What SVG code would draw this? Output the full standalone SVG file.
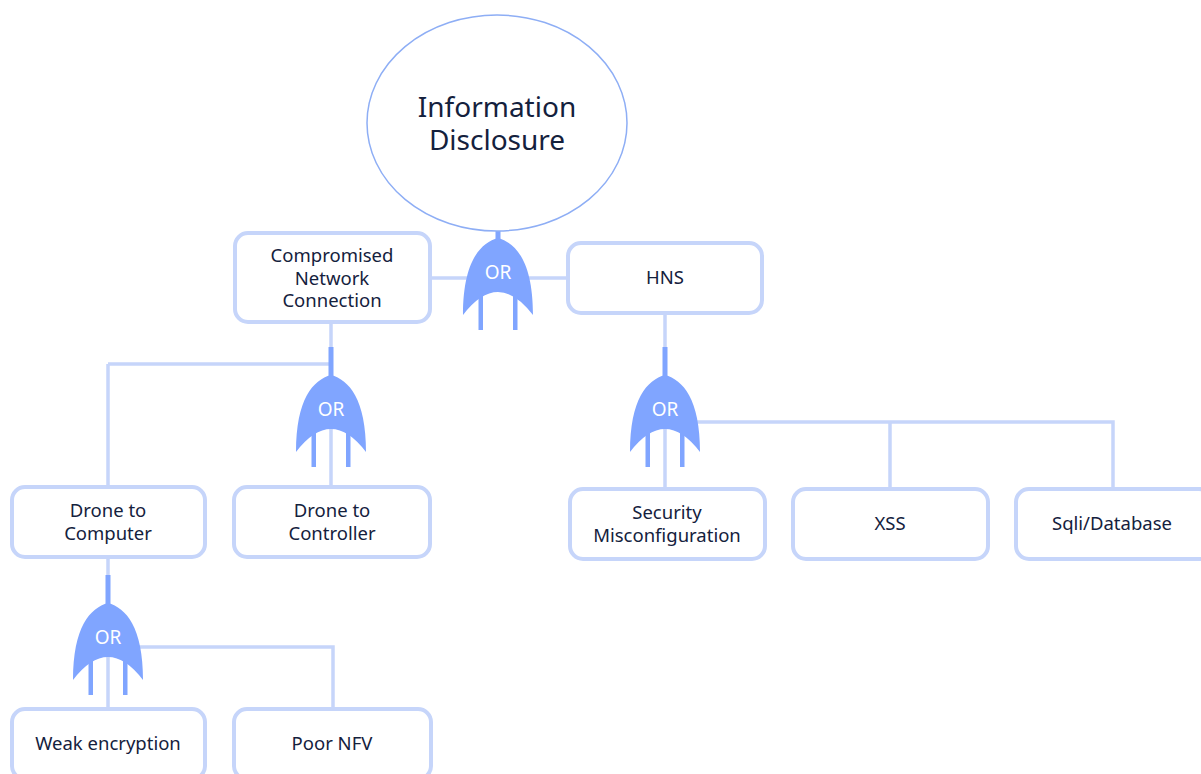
<svg xmlns="http://www.w3.org/2000/svg" width="1201" height="774" viewBox="0 0 1201 774">
  <defs>
    <style>
      .box { fill: #ffffff; stroke: #c6d5fa; stroke-width: 4; }
      .lbl { font-family: "Noto Sans", "Open Sans", sans-serif; font-size: 18.5px; fill: #14213d; text-anchor: middle; }
      .title { font-family: "Noto Sans", "Open Sans", sans-serif; font-size: 28px; fill: #14213d; text-anchor: middle; }
      .wire { fill: none; stroke: #c6d5fa; stroke-width: 3.5; }
      .gate { fill: #80a5ff; }
      .gate-txt { font-family: "Noto Sans", "Open Sans", sans-serif; font-size: 19px; fill: #ffffff; text-anchor: middle; }
    </style>
    <!-- OR gate: origin at the apex of the body -->
    <g id="or-gate">
      <rect class="gate" x="-2.5" y="-28" width="5" height="31"/>
      <path class="gate" d="M0,0 C18,5 35,24 35,77 Q0,31 -35,77 C-35,24 -18,5 0,0 Z"/>
      <rect class="gate" x="-19.5" y="50" width="4.5" height="42"/>
      <rect class="gate" x="15" y="50" width="4.5" height="42"/>
      <text class="gate-txt" x="0" y="41">OR</text>
    </g>
  </defs>

  <!-- connectors -->
  <g id="connectors">
    <path class="wire" d="M430,278 H568"/>
    <path class="wire" d="M331,323 V350"/>
    <path class="wire" d="M108,364 H331"/>
    <path class="wire" d="M108,364 V487"/>
    <path class="wire" d="M331,420 V487"/>
    <path class="wire" d="M665,313 V350"/>
    <path class="wire" d="M665,420 V489"/>
    <path class="wire" d="M680,422 H1113 V489"/>
    <path class="wire" d="M890,422 V489"/>
    <path class="wire" d="M108,557 V576"/>
    <path class="wire" d="M108,640 V709"/>
    <path class="wire" d="M125,647 H333 V709"/>
  </g>

  <!-- gates -->
  <g id="gate-top">
    <use href="#or-gate" x="498" y="238"/>
  </g>
  <g id="gate-network">
    <use href="#or-gate" x="331" y="375"/>
  </g>
  <g id="gate-hns">
    <use href="#or-gate" x="665" y="375"/>
  </g>
  <g id="gate-drone">
    <use href="#or-gate" x="108" y="603"/>
  </g>

  <!-- top event -->
  <g id="information-disclosure">
    <ellipse cx="497" cy="123" rx="130" ry="108" fill="#ffffff" stroke="#8eaef5" stroke-width="1.5"/>
    <text class="title"><tspan x="497" y="117">Information</tspan><tspan x="497" y="150">Disclosure</tspan></text>
  </g>

  <g id="compromised-network">
    <rect class="box" x="235" y="233" width="195" height="89" rx="13"/>
    <text class="lbl"><tspan x="332" y="262">Compromised</tspan><tspan x="332" y="285">Network</tspan><tspan x="332" y="307">Connection</tspan></text>
  </g>

  <g id="hns">
    <rect class="box" x="568" y="243" width="194" height="70" rx="13"/>
    <text class="lbl" x="665" y="284">HNS</text>
  </g>

  <g id="drone-computer">
    <rect class="box" x="12" y="487" width="193" height="70" rx="13"/>
    <text class="lbl"><tspan x="108" y="517">Drone to</tspan><tspan x="108" y="540">Computer</tspan></text>
  </g>

  <g id="drone-controller">
    <rect class="box" x="234" y="487" width="196" height="70" rx="13"/>
    <text class="lbl"><tspan x="332" y="517">Drone to</tspan><tspan x="332" y="540">Controller</tspan></text>
  </g>

  <g id="security-misconfiguration">
    <rect class="box" x="570" y="489" width="195" height="70" rx="13"/>
    <text class="lbl"><tspan x="667" y="519">Security</tspan><tspan x="667" y="542">Misconfiguration</tspan></text>
  </g>

  <g id="xss">
    <rect class="box" x="793" y="489" width="195" height="70" rx="13"/>
    <text class="lbl" x="890" y="530">XSS</text>
  </g>

  <g id="sqli-database">
    <rect class="box" x="1016" y="489" width="196" height="70" rx="13"/>
    <text class="lbl" x="1112" y="530">Sqli/Database</text>
  </g>

  <g id="weak-encryption">
    <rect class="box" x="12" y="709" width="193" height="70" rx="13"/>
    <text class="lbl" x="108" y="750">Weak encryption</text>
  </g>

  <g id="poor-nfv">
    <rect class="box" x="234" y="709" width="197" height="70" rx="13"/>
    <text class="lbl" x="332" y="750">Poor NFV</text>
  </g>
</svg>
